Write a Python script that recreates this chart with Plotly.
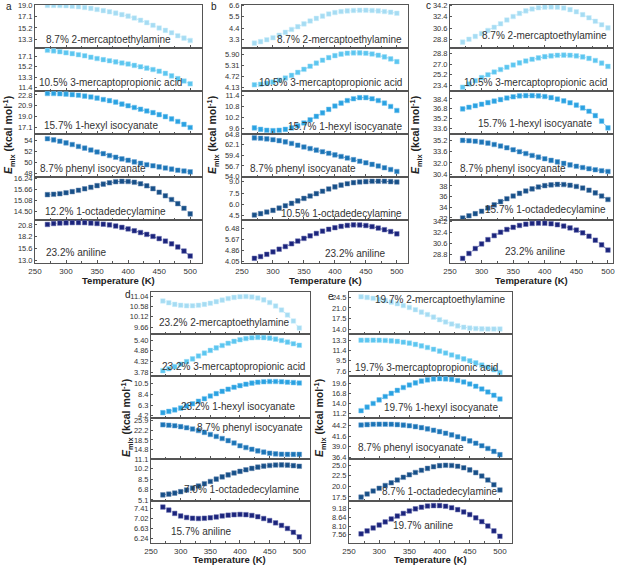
import plotly.graph_objects as go

# ---------------- data ----------------
temperature = [270, 280, 290, 300, 310, 320, 330, 340, 350, 360, 370, 380,
               390, 400, 410, 420, 430, 440, 450, 460, 470, 480, 490, 500]
x_ticks = [250, 300, 350, 400, 450, 500]

# panel a
a_mercaptoethylamine = [19.0, 19.0, 18.98, 18.95, 18.87, 18.77, 18.65, 18.5, 18.32, 18.12, 17.92, 17.7,
                        17.45, 17.2, 16.87, 16.5, 16.1, 15.65, 15.2, 14.8, 14.4, 13.9, 13.5, 13.1]
a_mercaptopropionic = [18.2, 18.1, 17.95, 17.75, 17.6, 17.4, 17.2, 16.95, 16.7, 16.5, 16.3, 16.1,
                       15.9, 15.7, 15.45, 15.2, 14.95, 14.7, 14.4, 14.0, 13.55, 13.05, 12.6, 12.1]
a_hexyl_isocyanate = [23.05, 23.05, 23.0, 22.95, 22.85, 22.75, 22.6, 22.45, 22.25, 22.0, 21.8, 21.55,
                      21.2, 20.9, 20.6, 20.3, 20.0, 19.7, 19.35, 19.0, 18.6, 18.15, 17.65, 17.1]
a_phenyl_isocyanate = [54.3, 54.1, 53.85, 53.55, 53.25, 52.9, 52.6, 52.25, 51.9, 51.6, 51.25, 50.95,
                       50.65, 50.4, 50.1, 49.85, 49.6, 49.4, 49.2, 49.0, 48.8, 48.6, 48.45, 48.3]
a_octadecylamine = [15.38, 15.40, 15.43, 15.48, 15.54, 15.61, 15.69, 15.77, 15.86, 15.94, 16.01, 16.07,
                    16.09, 16.08, 16.04, 15.96, 15.85, 15.70, 15.51, 15.32, 15.12, 14.90, 14.65, 14.35]
a_aniline = [20.9, 21.1, 21.2, 21.25, 21.3, 21.3, 21.3, 21.2, 21.1, 20.95, 20.8, 20.55,
             20.25, 19.9, 19.5, 19.1, 18.7, 18.25, 17.75, 17.2, 16.6, 15.9, 15.0, 13.9]

# panel b
b_mercaptoethylamine = [2.95, 3.1, 3.28, 3.48, 3.72, 4.0, 4.28, 4.55, 4.82, 5.1, 5.35, 5.57,
                        5.78, 5.92, 6.02, 6.08, 6.12, 6.14, 6.14, 6.12, 6.08, 6.02, 5.95, 5.85]
b_mercaptopropionic = [4.25, 4.28, 4.33, 4.40, 4.50, 4.62, 4.77, 4.93, 5.10, 5.27, 5.44, 5.60,
                       5.74, 5.85, 5.93, 5.98, 6.00, 6.00, 5.98, 5.94, 5.87, 5.78, 5.67, 5.52]
b_hexyl_isocyanate = [9.63, 9.55, 9.50, 9.48, 9.50, 9.55, 9.63, 9.75, 9.90, 10.07, 10.26, 10.45,
                      10.64, 10.82, 10.98, 11.12, 11.22, 11.28, 11.28, 11.22, 11.12, 10.98, 10.80, 10.58]
b_phenyl_isocyanate = [63.8, 63.7, 63.55, 63.35, 63.1, 62.8, 62.4, 61.95, 61.5, 61.1, 60.7, 60.3,
                       59.9, 59.5, 59.1, 58.7, 58.3, 57.9, 57.5, 57.1, 56.7, 56.25, 55.8, 55.3]
b_octadecylamine = [4.55, 4.74, 4.95, 5.18, 5.48, 5.8, 6.12, 6.45, 6.78, 7.1, 7.42, 7.74,
                    8.05, 8.33, 8.56, 8.75, 8.89, 8.98, 9.03, 9.07, 9.08, 9.07, 9.03, 8.97]
b_aniline = [4.27, 4.4, 4.57, 4.75, 4.95, 5.15, 5.36, 5.56, 5.76, 5.95, 6.13, 6.3,
             6.44, 6.56, 6.66, 6.73, 6.77, 6.76, 6.72, 6.64, 6.53, 6.41, 6.27, 6.1]

# panel c
c_mercaptoethylamine = [28.4, 28.85, 29.3, 29.75, 30.25, 30.75, 31.3, 31.9, 32.45, 32.95, 33.35, 33.65,
                        33.85, 33.95, 33.97, 33.93, 33.8, 33.55, 33.2, 32.75, 32.25, 31.7, 31.15, 30.65]
c_mercaptopropionic = [23.1, 23.65, 24.2, 24.72, 25.2, 25.65, 26.07, 26.47, 26.85, 27.2, 27.52, 27.8,
                       28.04, 28.24, 28.38, 28.47, 28.5, 28.47, 28.38, 28.2, 27.95, 27.6, 27.15, 26.6]
c_hexyl_isocyanate = [36.8, 37.05, 37.3, 37.55, 37.8, 38.05, 38.3, 38.55, 38.75, 38.9, 38.95, 38.95,
                      38.9, 38.8, 38.62, 38.38, 38.1, 37.78, 37.4, 36.95, 36.4, 35.7, 34.8, 33.7]
c_phenyl_isocyanate = [35.25, 35.2, 35.12, 35.0, 34.85, 34.65, 34.43, 34.18, 33.9, 33.62, 33.35, 33.08,
                       32.83, 32.6, 32.37, 32.15, 31.93, 31.72, 31.52, 31.34, 31.17, 31.02, 30.88, 30.77]
c_octadecylamine = [32.0, 32.4, 32.8, 33.25, 33.85, 34.45, 35.05, 35.6, 36.1, 36.6, 37.05, 37.45,
                    37.8, 38.05, 38.2, 38.28, 38.25, 38.12, 37.9, 37.6, 37.2, 36.7, 36.1, 35.45]
c_aniline = [28.15, 28.95, 29.75, 30.5, 31.2, 31.85, 32.4, 32.85, 33.2, 33.5, 33.7, 33.83,
             33.88, 33.86, 33.78, 33.62, 33.4, 33.1, 32.75, 32.3, 31.75, 31.1, 30.35, 29.5]

# panel d
d_mercaptoethylamine = [10.82, 10.74, 10.67, 10.63, 10.61, 10.61, 10.63, 10.67, 10.72, 10.79, 10.86, 10.93,
                        10.98, 11.01, 11.02, 11.0, 10.95, 10.87, 10.75, 10.6, 10.42, 10.2, 9.93, 9.62]
d_mercaptopropionic = [3.85, 3.95, 4.06, 4.18, 4.31, 4.45, 4.6, 4.74, 4.88, 5.01, 5.13, 5.24,
                       5.34, 5.42, 5.48, 5.52, 5.54, 5.53, 5.5, 5.45, 5.38, 5.3, 5.22, 5.14]
d_hexyl_isocyanate = [4.8, 5.05, 5.35, 5.7, 6.1, 6.55, 7.05, 7.55, 8.07, 8.55, 9.0, 9.42,
                      9.8, 10.12, 10.4, 10.62, 10.78, 10.88, 10.93, 10.93, 10.88, 10.8, 10.72, 10.63]
d_phenyl_isocyanate = [24.3, 24.15, 23.95, 23.6, 23.2, 22.7, 22.1, 21.4, 20.6, 19.85, 19.05, 18.25,
                       17.35, 16.3, 15.6, 14.95, 14.35, 13.85, 13.45, 13.2, 13.05, 13.0, 13.0, 13.0]
d_octadecylamine = [5.93, 6.05, 6.22, 6.45, 6.72, 7.03, 7.38, 7.75, 8.12, 8.5, 8.87, 9.2,
                    9.5, 9.77, 10.02, 10.25, 10.45, 10.62, 10.73, 10.8, 10.82, 10.78, 10.7, 10.6]
d_aniline = [7.47, 7.35, 7.22, 7.12, 7.06, 7.03, 7.02, 7.03, 7.05, 7.08, 7.12, 7.15,
             7.17, 7.18, 7.17, 7.14, 7.09, 7.02, 6.94, 6.85, 6.75, 6.63, 6.48, 6.3]

# panel e
e_mercaptoethylamine = [24.7, 24.5, 24.2, 23.85, 23.45, 22.95, 22.4, 21.8, 21.15, 20.4, 19.6, 18.8,
                        17.95, 17.1, 16.35, 15.65, 15.05, 14.6, 14.3, 14.15, 14.05, 14.0, 14.0, 14.0]
e_mercaptopropionic = [13.3, 13.3, 13.3, 13.28, 13.25, 13.18, 13.08, 12.93, 12.75, 12.52, 12.25, 11.95,
                       11.62, 11.28, 10.93, 10.58, 10.22, 9.86, 9.5, 9.12, 8.72, 8.3, 7.85, 7.35]
e_hexyl_isocyanate = [11.9, 12.9, 13.95, 14.95, 15.9, 16.8, 17.65, 18.45, 19.15, 19.75, 20.25, 20.6,
                      20.85, 20.95, 20.9, 20.75, 20.45, 20.0, 19.45, 18.8, 18.05, 17.2, 16.25, 15.2]
e_phenyl_isocyanate = [44.35, 44.45, 44.52, 44.55, 44.55, 44.52, 44.45, 44.33, 44.17, 43.95, 43.7, 43.4,
                       43.07, 42.72, 42.33, 41.92, 41.47, 40.98, 40.45, 39.87, 39.25, 38.58, 37.85, 37.05]
e_octadecylamine = [17.45, 18.2, 18.9, 19.55, 20.2, 20.85, 21.5, 22.15, 22.75, 23.3, 23.8, 24.25,
                    24.65, 24.9, 25.0, 24.95, 24.75, 24.4, 23.9, 23.25, 22.45, 21.5, 20.4, 19.15]
e_aniline = [7.62, 7.8, 7.98, 8.16, 8.35, 8.53, 8.71, 8.87, 9.02, 9.15, 9.25, 9.32,
             9.35, 9.35, 9.31, 9.22, 9.1, 8.96, 8.8, 8.6, 8.37, 8.1, 7.8, 7.47]

# labels
a_labels = ["8.7% 2-mercaptoethylamine", "10.5% 3-mercaptopropionic acid", "15.7% 1-hexyl isocyanate",
            "8.7% phenyl isocyanate", "12.2% 1-octadedecylamine", "23.2% aniline"]
b_labels = ["8.7% 2-mercaptoethylamine", "10.5% 3-mercaptopropionic acid", "15.7% 1-hexyl isocyanate",
            "8.7% phenyl isocyanate", "10.5% 1-octadedecylamine", "23.2% aniline"]
c_labels = ["8.7% 2-mercaptoethylamine", "10.5% 3-mercaptopropionic acid", "15.7% 1-hexyl isocyanate",
            "8.7% phenyl isocyanate", "15.7% 1-octadedecylamine", "23.2% aniline"]
d_labels = ["23.2% 2-mercaptoethylamine", "23.2% 3-mercaptopropionic acid", "23.2% 1-hexyl isocyanate",
            "8.7% phenyl isocyanate", "7.0% 1-octadedecylamine", "15.7% aniline"]
e_labels = ["19.7% 2-mercaptoethylamine", "19.7% 3-mercaptopropionic acid", "19.7% 1-hexyl isocyanate",
            "8.7% phenyl isocyanate", "8.7% 1-octadedecylamine", "19.7% aniline"]

# y tick labels
a_yticks = [["13.3", "15.2", "17.1", "19.0"], ["11.4", "13.3", "15.2", "17.1"], ["17.1", "19.0", "20.9", "22.8"],
            ["48", "50", "52", "54"], ["14.50", "15.08", "15.66", "16.24"], ["13.0", "15.6", "18.2", "20.8"]]
b_yticks = [["3.3", "4.4", "5.5", "6.6"], ["4.13", "4.72", "5.31", "5.90"], ["9.6", "10.2", "10.8", "11.4"],
            ["54.0", "56.7", "59.4", "62.1", "64.8"], ["4.5", "6.0", "7.5", "9.0"], ["4.05", "4.86", "5.67", "6.48"]]
c_yticks = [["28.8", "30.6", "32.4", "34.2"], ["23.4", "25.2", "27.0", "28.8"], ["33.6", "35.2", "36.8", "38.4"],
            ["30.4", "32.0", "33.6", "35.2"], ["32", "34", "36", "38"], ["28.8", "30.6", "32.4", "34.2"]]
d_yticks = [["9.66", "10.12", "10.58", "11.04"], ["3.78", "4.32", "4.86", "5.40"], ["4.2", "6.3", "8.4", "10.5"],
            ["11.1", "14.8", "18.5", "22.2", "25.9"], ["5.1", "6.8", "8.5", "10.2"], ["6.24", "6.63", "7.02", "7.41"]]
e_yticks = [["14.0", "17.5", "21.0", "24.5"], ["7.6", "9.5", "11.4", "13.3"], ["11.2", "14.0", "16.8", "19.6"],
            ["36.4", "39.0", "41.6", "44.2"], ["17.5", "20.0", "22.5", "25.0"], ["7.56", "8.10", "8.64", "9.18"]]

# ---------------- style / layout ----------------
W, H = 623, 566
colors = ["#a6dcf3", "#5cc6f0", "#2aa2e2", "#1b74b6", "#164f88", "#1b247c"]
edge_colors = ["#cdeefa", "#a0def7", "#7cc6ee", "#6fa6d6", "#6888b0", "#6a70b0"]
FONT = "Liberation Sans, Arial, sans-serif"

panels = [
    dict(name="a", series=[a_mercaptoethylamine, a_mercaptopropionic, a_hexyl_isocyanate,
                           a_phenyl_isocyanate, a_octadecylamine, a_aniline],
         labels=a_labels, yticks=a_yticks, box=(35, 202, 4.5, 263), xr=[250, 519],
         yr=[[11.9, 19.15], [10.85, 18.7], [16.0, 23.55], [47.4, 55.2], [14.03, 16.33], [12.35, 21.9]],
         txt=[(265, 0.19, "left"), (253, 0.18, "left"), (261, 0.2, "left"),
              (255, 0.2, "left"), (263, 0.2, "left"), (265, 0.24, "left")],
         letter=(4, 7), ylab=(9, 135), xlab=(118, 280)),
    dict(name="b", series=[b_mercaptoethylamine, b_mercaptopropionic, b_hexyl_isocyanate,
                           b_phenyl_isocyanate, b_octadecylamine, b_aniline],
         labels=b_labels, yticks=b_yticks, box=(242, 408, 4.5, 263), xr=[250, 518],
         yr=[[2.52, 6.7], [3.93, 6.29], [9.31, 11.66], [53.95, 64.85], [3.9, 9.67], [3.92, 7.14]],
         txt=[(512, 0.19, "right"), (512, 0.19, "right"), (512, 0.17, "right"),
              (260, 0.2, "left"), (512, 0.16, "right"), (432, 0.23, "center")],
         letter=(209, 7), ylab=(213, 135), xlab=(325, 280)),
    dict(name="c", series=[c_mercaptoethylamine, c_mercaptopropionic, c_hexyl_isocyanate,
                           c_phenyl_isocyanate, c_octadecylamine, c_aniline],
         labels=c_labels, yticks=c_yticks, box=(450, 613, 4.5, 263), xr=[250, 508],
         yr=[[27.53, 34.36], [22.52, 29.77], [32.75, 39.75], [30.0, 36.2], [31.63, 39.7], [27.4, 34.4]],
         txt=[(501, 0.29, "right"), (501, 0.2, "right"), (384, 0.24, "center"),
              (263, 0.19, "left"), (500, 0.25, "right"), (384, 0.27, "center")],
         letter=(424, 6), ylab=(416, 135), xlab=(531, 280)),
    dict(name="d", series=[d_mercaptoethylamine, d_mercaptopropionic, d_hexyl_isocyanate,
                           d_phenyl_isocyanate, d_octadecylamine, d_aniline],
         labels=d_labels, yticks=d_yticks, box=(151, 310, 292, 543), xr=[250, 518],
         yr=[[9.36, 11.22], [3.6, 5.72], [3.85, 12.08], [11.1, 27.1], [4.9, 11.73], [6.06, 7.7]],
         txt=[(260, 0.27, "left"), (513, 0.23, "right"), (496, 0.26, "right"),
              (510, 0.77, "right"), (505, 0.27, "right"), (334, 0.27, "center")],
         letter=(123, 294), ylab=(127, 418), xlab=(230, 559)),
    dict(name="e", series=[e_mercaptoethylamine, e_mercaptopropionic, e_hexyl_isocyanate,
                           e_phenyl_isocyanate, e_octadecylamine, e_aniline],
         labels=e_labels, yticks=e_yticks, box=(349, 512, 292, 543), xr=[250, 520],
         yr=[[12.4, 26.3], [6.76, 14.47], [9.97, 21.8], [35.9, 46.2], [16.5, 26.4], [7.06, 9.62]],
         txt=[(513, 0.81, "right"), (256, 0.19, "left"), (403, 0.23, "center"),
              (261, 0.28, "left"), (400, 0.24, "center"), (372, 0.43, "center")],
         letter=(326, 296), ylab=(320, 418), xlab=(430, 559)),
]

fig = go.Figure()
layout = dict(width=W, height=H, margin=dict(l=0, r=0, t=0, b=0, pad=0, autoexpand=False),
              paper_bgcolor="white", plot_bgcolor="white", showlegend=False,
              font=dict(family=FONT, color="#222"))
annotations = []
k = 0
for p in panels:
    x0, x1, ytop, ybot = p["box"]
    hrow = (ybot - ytop) / 6.0
    for i in range(6):
        k += 1
        sfx = "" if k == 1 else str(k)
        r_top = ytop + i * hrow
        r_bot = r_top + hrow
        fig.add_trace(go.Scatter(
            x=temperature, y=p["series"][i], mode="lines+markers",
            line=dict(color=colors[i], width=0.7, dash="dot"),
            marker=dict(symbol="square", size=4.6, color=colors[i],
                        line=dict(color=edge_colors[i], width=0.5)),
            xaxis="x" + sfx, yaxis="y" + sfx, hoverinfo="skip"))
        ticktext = p["yticks"][i]
        tickvals = [float(t) for t in ticktext]
        layout["xaxis" + sfx] = dict(
            domain=[x0 / W, x1 / W], range=p["xr"], anchor="y" + sfx, automargin=False,
            showline=True, mirror=True, linecolor="#555", linewidth=1,
            ticks="inside", ticklen=3, tickwidth=1, tickcolor="#555",
            tickvals=x_ticks, showgrid=False, zeroline=False,
            minor=dict(tickvals=[275, 325, 375, 425, 475], ticks="inside", ticklen=2,
                       tickcolor="#555"),
            showticklabels=(i == 5), tickfont=dict(size=8, color="#333", family=FONT))
        layout["yaxis" + sfx] = dict(
            domain=[1 - r_bot / H, 1 - r_top / H], range=p["yr"][i], anchor="x" + sfx,
            automargin=False,
            showline=True, mirror=True, linecolor="#555", linewidth=1,
            ticks="inside", ticklen=2, tickcolor="#555",
            tickvals=tickvals, ticktext=ticktext, showgrid=False, zeroline=False,
            tickfont=dict(size=7.5, color="#333", family=FONT))
        tx, ty, anc = p["txt"][i]
        annotations.append(dict(
            text=p["labels"][i], x=tx, y=ty, xref="x" + sfx, yref="y" + sfx + " domain",
            xanchor=anc, yanchor="middle", showarrow=False,
            font=dict(size=10, color="#333", family=FONT)))
    lx, ly = p["letter"]
    annotations.append(dict(text=p["name"], x=lx / W, y=1 - ly / H, xref="paper", yref="paper",
                            xanchor="left", yanchor="middle", showarrow=False,
                            font=dict(size=10, color="#222", family=FONT)))
    yx, yy = p["ylab"]
    annotations.append(dict(text="<b><i>E</i><sub>mix</sub> (kcal mol<sup>-1</sup>)</b>",
                            x=yx / W, y=1 - yy / H, xref="paper", yref="paper",
                            xanchor="center", yanchor="middle", textangle=-90, showarrow=False,
                            font=dict(size=10.5, color="#222", family=FONT)))
    xx, xy = p["xlab"]
    annotations.append(dict(text="<b>Temperature (K)</b>", x=xx / W, y=1 - xy / H,
                            xref="paper", yref="paper", xanchor="center", yanchor="middle",
                            showarrow=False, font=dict(size=9.5, color="#222", family=FONT)))

layout["annotations"] = annotations
fig.update_layout(**layout)
fig.write_html("out.html", config={"displayModeBar": False, "staticPlot": True},
               post_script="document.body.style.margin='0';document.body.style.overflow='hidden';")
